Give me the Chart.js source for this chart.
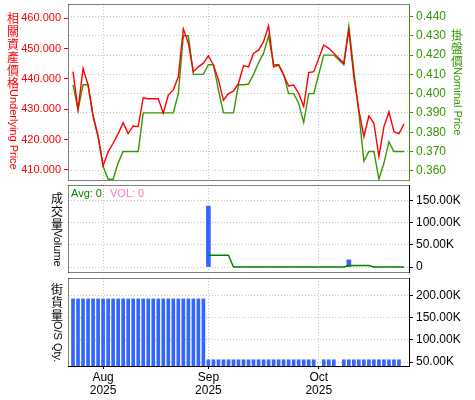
<!DOCTYPE html>
<html><head><meta charset="utf-8">
<script src="https://cdn.jsdelivr.net/npm/chart.js@4/dist/chart.umd.min.js"></script>
<style>
html,body{margin:0;padding:0;background:#fff;}
#wrap{position:relative;width:475px;height:400px;overflow:hidden;background:#fff;}
canvas{position:absolute;left:0;top:0;width:475px;height:400px;}
.vt{position:absolute;width:16px;display:flex;flex-direction:column;align-items:center;white-space:nowrap;}
.vt .cj{display:block;height:13px;line-height:13px;font-family:"Noto Sans CJK TC",sans-serif;font-size:12px;}
.vt .lt{display:block;writing-mode:vertical-rl;font-family:"Liberation Sans",Arial,sans-serif;font-size:11px;line-height:13px;}
#legend{position:absolute;left:71px;top:187px;font-family:"Liberation Sans",sans-serif;font-size:11px;line-height:13px;white-space:nowrap;}
</style></head>
<body><div id="wrap">
<canvas id="c1" width="475" height="400"></canvas>
<canvas id="c2" width="475" height="400"></canvas>
<canvas id="c3" width="475" height="400"></canvas>
<div class="vt" style="left:5px;top:11px;color:#ff0000">相關資產價格Underlying Price</div>
<div class="vt" style="left:449px;top:28px;color:#339900">掛盤價Nominal Price</div>
<div class="vt" style="left:49px;top:191px;color:#000">成交量Volume</div>
<div class="vt" style="left:49px;top:282px;color:#000">街貨量O/S Qty.</div>
<div id="legend"><span style="color:#008000">Avg: 0</span><span style="color:#ff77bb;margin-left:8px">VOL: 0</span></div>
</div>
<script>
// ---- data ----
const dates = [
 "2025-07-24","2025-07-25","2025-07-28","2025-07-29","2025-07-30","2025-07-31",
 "2025-08-01","2025-08-04","2025-08-05","2025-08-06","2025-08-07","2025-08-08",
 "2025-08-11","2025-08-12","2025-08-13","2025-08-14","2025-08-15",
 "2025-08-18","2025-08-19","2025-08-20","2025-08-21","2025-08-22",
 "2025-08-25","2025-08-26","2025-08-27","2025-08-28","2025-08-29",
 "2025-09-01","2025-09-02","2025-09-03","2025-09-04","2025-09-05",
 "2025-09-08","2025-09-09","2025-09-10","2025-09-11","2025-09-12",
 "2025-09-15","2025-09-16","2025-09-17","2025-09-18","2025-09-19",
 "2025-09-22","2025-09-23","2025-09-24","2025-09-25","2025-09-26",
 "2025-09-29","2025-09-30","2025-10-01","2025-10-02","2025-10-03",
 "2025-10-06","2025-10-07","2025-10-08","2025-10-09","2025-10-10",
 "2025-10-13","2025-10-14","2025-10-15","2025-10-16","2025-10-17",
 "2025-10-20","2025-10-21","2025-10-22","2025-10-23","2025-10-24"
];
const underlyingPrice = [
 442.4,429.8,443.5,438.0,427.6,421.0,
 411.4,416.0,418.8,422.0,425.6,422.0,
 424.5,424.3,433.8,433.5,433.5,
 433.5,428.7,434.7,436.4,440.7,
 456.5,451.8,442.4,444.0,445.2,
 447.6,444.6,439.7,433.0,435.2,
 436.0,438.5,444.4,444.0,448.5,
 449.5,452.3,457.5,444.0,444.6,
 441.3,437.7,438.0,435.2,430.9,
 442.1,442.4,null,451.2,450.1,
 448.5,null,445.2,456.1,440.7,
 429.8,421.0,427.8,425.4,414.4,
 424.3,429.2,422.6,422.0,425.1
];
const nominalPrice = [
 0.4046,0.3917,0.4046,0.4046,0.3890,0.3779,
 0.3623,0.3556,0.3556,0.3641,0.3700,0.3700,
 0.3700,0.3700,0.3900,0.3900,0.3900,
 0.3900,0.3900,0.3900,0.3900,0.4000,
 0.4300,0.4300,0.4100,0.4100,0.4100,
 0.4150,0.4150,0.4020,0.3900,0.3900,
 0.3900,0.4046,0.4046,0.4050,0.4100,
 0.4160,0.4210,0.4300,0.4150,0.4150,
 0.4100,0.4000,0.4000,0.3950,0.3850,
 0.4000,0.4000,null,0.4200,0.4200,
 0.4200,null,0.4150,0.4350,0.4120,
 0.3900,0.3650,0.3700,0.3700,0.3556,
 0.3640,0.3750,0.3700,0.3700,0.3700
];
const volume = [
 null,null,null,null,null,null,null,null,null,null,null,null,null,null,
 null,null,null,null,null,null,null,null,null,null,null,null,null,
 137000,0,0,0,0,
 0,0,0,0,0,
 0,0,0,0,0,
 0,0,0,0,0,
 0,0,null,0,0,
 0,null,0,16000,0,
 0,0,0,0,0,
 0,0,0,0,0
];
const volumeAvg = [
 null,null,null,null,null,null,null,null,null,null,null,null,null,null,
 null,null,null,null,null,null,null,null,null,null,null,null,null,
 26500,26500,26500,26500,26500,
 0,0,0,0,0,
 0,0,0,0,0,
 0,0,0,0,0,
 0,0,null,0,0,
 0,null,0,3500,3500,
 3500,3500,3500,0,0,
 0,0,0,0,0
];
const osQty = [
 192000,192000,192000,192000,192000,192000,
 192000,192000,192000,192000,192000,192000,
 192000,192000,192000,192000,192000,
 192000,192000,192000,192000,192000,
 192000,192000,192000,192000,192000,
 55000,55000,55000,55000,55000,
 55000,55000,55000,55000,55000,
 55000,55000,55000,55000,55000,
 55000,55000,55000,55000,55000,
 55000,55000,null,55000,55000,
 55000,null,55000,55000,55000,
 55000,55000,55000,55000,55000,
 55000,55000,55000,55000,null
];
const priceTicks = [410,420,430,440,450,460];
const nominalTicks = [0.36,0.37,0.38,0.39,0.40,0.41,0.42,0.43,0.44];
const volumeTicks = [0,50000,100000,150000];
const osTicks = [50000,100000,150000,200000];
const monthNames = ["Jan","Feb","Mar","Apr","May","Jun","Jul","Aug","Sep","Oct","Nov","Dec"];

// ---- vertical titles: CJK upright, latin rotated ----
document.querySelectorAll('.vt').forEach(el => {
  const txt = el.textContent; el.textContent = '';
  let latin = '';
  const flush = () => { if (latin) { const s = document.createElement('span'); s.className = 'lt'; s.textContent = latin; el.appendChild(s); latin = ''; } };
  for (const ch of txt) {
    if (ch.charCodeAt(0) > 0x2e80) { flush(); const s = document.createElement('span'); s.className = 'cj'; s.textContent = ch; el.appendChild(s); }
    else latin += ch;
  }
  flush();
});

// ---- helpers ----
const FONT = '"Liberation Sans", Arial, sans-serif';
const GRID = '#c0c0c0';
const GDASH = [1,2];
const pts = arr => arr.map((v,i) => ({x:i, y:v}));
const monthStarts = [];
dates.forEach((d,i) => { if (i>0 && d.slice(0,7)!==dates[i-1].slice(0,7)) monthStarts.push(i); });
const monthLabel = v => { const d = dates[v]; return [monthNames[parseInt(d.slice(5,7),10)-1], d.slice(0,4)]; };
const kFmt = v => v===0 ? '0' : (v/1000).toFixed(2)+'K';
const setTicks = vals => s => { s.ticks = vals.map(v => ({value:v})); };
const noPad = s => { s.paddingTop=0; s.paddingBottom=0; s.paddingLeft=0; s.paddingRight=0; };
const barColor = ctx => (ctx.raw && ctx.raw.y) ? '#3366ff' : 'rgba(0,0,0,0)';

const framePlugin = {
  id: 'frame',
  afterDraw(chart, args, opts) {
    const {ctx, chartArea:a} = chart;
    ctx.save();
    ctx.strokeStyle = '#000'; ctx.lineWidth = 1; ctx.setLineDash([1,1]);
    ctx.beginPath();
    const L = Math.round(a.left)+0.5, T = Math.round(a.top)+0.5, B = Math.round(a.bottom)+0.5, R = Math.round(a.right);
    if (opts.left) { ctx.moveTo(L, T); ctx.lineTo(L, B); }
    if (opts.top) { ctx.moveTo(L, T); ctx.lineTo(R, T); }
    if (opts.bottom) { ctx.moveTo(L, B); ctx.lineTo(R, B); }
    ctx.stroke();
    ctx.restore();
  }
};

function xAxis(showLabels) {
  return {
    type: 'linear', min: -1, max: 67, offset: false,
    afterBuildTicks: setTicks(monthStarts),
    afterFit: s => { s.height = showLabels ? 34 : 0; noPad(s); },
    grid: { display: true, color: GRID, offset: false, drawOnChartArea: true, drawTicks: showLabels, tickLength: 3, tickColor: '#000', tickBorderDash: [] },
    border: { display: showLabels, color: '#000', width: 1, dash: GDASH },
    ticks: { display: showLabels, autoSkip: false, maxRotation: 0, padding: 2, color: '#000',
      font: { size: 12, family: FONT, lineHeight: 1.1 }, callback: v => monthLabel(v) }
  };
}
function rightAxis(min, max, vals, color, fmt) {
  return {
    type: 'linear', position: 'right', min, max,
    afterBuildTicks: setTicks(vals),
    afterFit: s => { s.width = 66; noPad(s); },
    grid: { color: GRID, drawTicks: true, tickLength: 4, tickColor: color, tickBorderDash: [] },
    border: { display: true, color: color, width: 1, dash: GDASH },
    ticks: { color: color, padding: 3, font: { size: 12, family: FONT }, callback: fmt }
  };
}
const common = {
  responsive: false, animation: false, devicePixelRatio: 1,
  plugins: { legend: { display: false }, tooltip: { enabled: false } },
  events: []
};

// ---- top: prices ----
new Chart(document.getElementById('c1'), {
  type: 'line',
  data: { datasets: [
    { data: pts(underlyingPrice), yAxisID: 'yL', borderColor: '#ff0000', borderWidth: 1.4, pointRadius: 0, tension: 0, spanGaps: true, fill: false },
    { data: pts(nominalPrice), yAxisID: 'yR', borderColor: '#339900', borderWidth: 1.4, pointRadius: 0, tension: 0, spanGaps: true, fill: false }
  ]},
  options: Object.assign({}, common, {
    layout: { padding: { top: 4, bottom: 220, left: 0, right: 0 } },
    plugins: Object.assign({}, common.plugins, { frame: { left: true, top: true, bottom: true } }),
    scales: {
      x: xAxis(false),
      yL: {
        type: 'linear', position: 'left', min: 406.7, max: 464.7,
        afterBuildTicks: setTicks(priceTicks),
        afterFit: s => { s.width = 68; noPad(s); },
        grid: { drawOnChartArea: false, drawTicks: true, tickLength: 4, tickColor: '#ff0000', tickBorderDash: [] },
        border: { display: false },
        ticks: { color: '#ff0000', padding: 3, font: { size: 11, family: FONT }, callback: v => v.toFixed(3) }
      },
      yR: rightAxis(0.3552, 0.4465, nominalTicks, '#339900', v => v.toFixed(3))
    }
  }),
  plugins: [framePlugin]
});

// ---- middle: volume ----
new Chart(document.getElementById('c2'), {
  type: 'bar',
  data: { datasets: [
    { type: 'line', data: pts(volumeAvg), yAxisID: 'yV', borderColor: '#008000', borderWidth: 1.4, pointRadius: 0, tension: 0, spanGaps: true, fill: false, order: 0 },
    { type: 'bar', data: pts(volume), yAxisID: 'yV', backgroundColor: barColor, barThickness: 4, borderWidth: 0, order: 1 }
  ]},
  options: Object.assign({}, common, {
    layout: { padding: { top: 185, bottom: 128, left: 68, right: 0 } },
    plugins: Object.assign({}, common.plugins, { frame: { left: true, top: true, bottom: true } }),
    scales: {
      x: xAxis(false),
      yV: rightAxis(-11200, 184400, volumeTicks, '#000', kFmt)
    }
  }),
  plugins: [framePlugin]
});

// ---- bottom: outstanding quantity ----
new Chart(document.getElementById('c3'), {
  type: 'bar',
  data: { datasets: [
    { data: pts(osQty), yAxisID: 'yQ', backgroundColor: '#3366ff', barThickness: 3, borderWidth: 0 }
  ]},
  options: Object.assign({}, common, {
    layout: { padding: { top: 278, bottom: 0, left: 68, right: 0 } },
    plugins: Object.assign({}, common.plugins, { frame: { left: true, top: true, bottom: false } }),
    scales: {
      x: xAxis(true),
      yQ: rightAxis(41000, 239000, osTicks, '#000', kFmt)
    }
  }),
  plugins: [framePlugin]
});
</script>
</body></html>
